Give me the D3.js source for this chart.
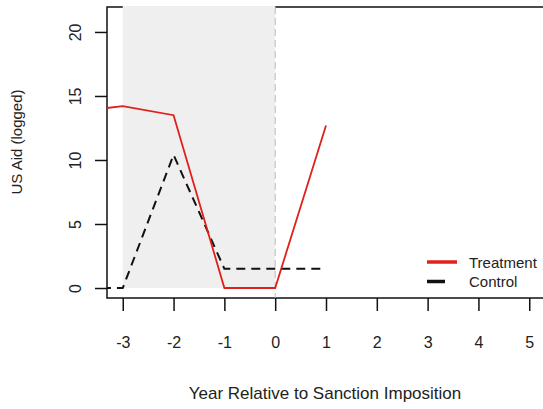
<!DOCTYPE html>
<html>
<head>
<meta charset="utf-8">
<script src="https://cdn.jsdelivr.net/npm/d3@7"></script>
<style>
  html, body { margin: 0; padding: 0; background: #fff; }
  svg text { font-family: "Liberation Sans", Arial, sans-serif; fill: #222; }
</style>
</head>
<body>
<svg id="chart" width="543" height="409"></svg>
<script>
// Years relative to sanction imposition
const years = [-4, -3, -2, -1, 0, 1];
// Mean logged US aid, treated and control countries
const treatment = [13.75, 14.2, 13.5, 0, 0, 12.7];
const control = [0, 0, 10.4, 1.5, 1.5, 1.5];
const xTicks = [-3, -2, -1, 0, 1, 2, 3, 4, 5];
const yTicks = [0, 5, 10, 15, 20];
const shadedYears = [-3, 0];
const legendLabels = ["Treatment", "Control"];

const svg = d3.select("#chart");
const plotLeft = 107, plotTop = 7, plotBottom = 298, plotRight = 545;

const x = d3.scaleLinear().domain([-3.31, 5.31]).range([plotLeft, plotRight]);
const y = d3.scaleLinear().domain([-0.78, 21.95]).range([plotBottom, plotTop]);

svg.append("defs").append("clipPath").attr("id", "plotClip")
  .append("rect").attr("x", plotLeft).attr("y", plotTop)
  .attr("width", plotRight - plotLeft).attr("height", plotBottom - plotTop);

// plot frame
svg.append("rect").attr("x", plotLeft).attr("y", plotTop)
  .attr("width", plotRight - plotLeft).attr("height", plotBottom - plotTop)
  .attr("fill", "none").attr("stroke", "#111").attr("stroke-width", 1.5);

// pre-sanction shading
svg.append("rect")
  .attr("x", x(shadedYears[0])).attr("y", plotTop - 1)
  .attr("width", x(shadedYears[1]) - x(shadedYears[0]))
  .attr("height", y(0) - plotTop + 1)
  .attr("fill", "#efefef");

// imposition marker
svg.append("line")
  .attr("x1", x(0)).attr("x2", x(0)).attr("y1", plotTop).attr("y2", plotBottom)
  .attr("stroke", "#bbb").attr("stroke-width", 1).attr("stroke-dasharray", "7,4");

const plot = svg.append("g").attr("clip-path", "url(#plotClip)");
const line = d3.line().x((d, i) => x(years[i])).y(d => y(d));

plot.append("path").datum(control).attr("d", line)
  .attr("fill", "none").attr("stroke", "#111").attr("stroke-width", 2)
  .attr("stroke-dasharray", "9,6");
plot.append("path").datum(treatment).attr("d", line)
  .attr("fill", "none").attr("stroke", "#e0201b").attr("stroke-width", 1.8);

// axes
const fmt = d => String(d);
const xAxis = svg.append("g").attr("transform", `translate(0,${plotBottom})`)
  .call(d3.axisBottom(x).tickValues(xTicks).tickSize(13).tickPadding(26).tickFormat(fmt));
const yAxis = svg.append("g").attr("transform", `translate(${plotLeft},0)`)
  .call(d3.axisLeft(y).tickValues(yTicks).tickSize(12).tickFormat(fmt));
[xAxis, yAxis].forEach(g => {
  g.select(".domain").remove();
  g.selectAll(".tick line").attr("stroke", "#111").attr("stroke-width", 1.5);
  g.selectAll(".tick text").style("font-size", "16px").attr("fill", "#222");
});
yAxis.selectAll(".tick text")
  .attr("x", null).attr("dy", null)
  .attr("text-anchor", "middle")
  .attr("transform", "translate(-31,0) rotate(-90) translate(0,5)");

// axis titles
svg.append("text").attr("x", 325).attr("y", 399).attr("text-anchor", "middle")
  .style("font-size", "17px").text("Year Relative to Sanction Imposition");
svg.append("text").attr("transform", "translate(22,142) rotate(-90)")
  .attr("text-anchor", "middle").style("font-size", "15px").text("US Aid (logged)");

// legend
const legend = svg.append("g");
const legendColors = ["#e0201b", "#111"];
legendLabels.forEach((lab, i) => {
  const ly = 262 + i * 19.5;
  legend.append("line").attr("x1", 427).attr("x2", 457).attr("y1", ly).attr("y2", ly)
    .attr("stroke", legendColors[i]).attr("stroke-width", 3.5)
    .attr("stroke-dasharray", i === 1 ? "18,30" : null);
  legend.append("text").attr("x", 469).attr("y", ly + 5.5).style("font-size", "15px").text(lab);
});
</script>
</body>
</html>
